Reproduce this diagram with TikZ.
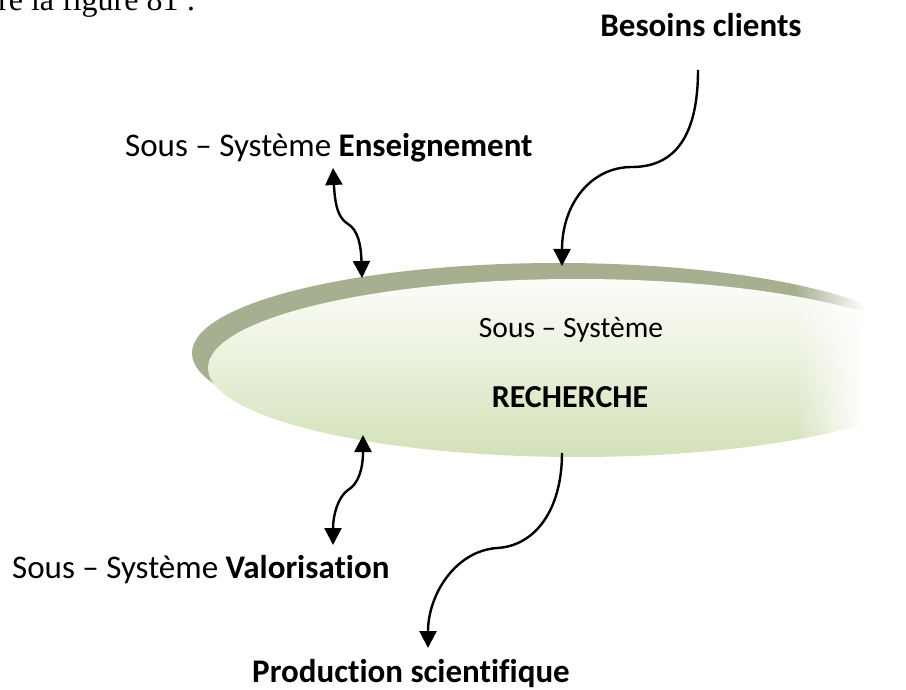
\documentclass[tikz,border=0pt]{standalone}
\usepackage{fontspec}
\setmainfont{Carlito}[Ligatures=NoCommon]
\newfontfamily\timesf{Liberation Serif}
\usetikzlibrary{arrows.meta,fadings}
\definecolor{rim}{RGB}{166,176,145}
\definecolor{lightbot}{RGB}{212,225,185}
\definecolor{lightmid}{RGB}{236,242,224}
\definecolor{lighttop}{RGB}{252,253,249}
\tikzfading[name=fadeR, left color=transparent!100, right color=transparent!0]
\begin{document}
\begin{tikzpicture}[x=1pt,y=-1pt,
  lbl/.style={font=\fontsize{33}{40}\selectfont, inner sep=0pt},
  inlbl/.style={font=\fontsize{29.5}{36}\selectfont, inner sep=0pt},
  inbold/.style={font=\fontsize{32}{38}\selectfont\bfseries, inner sep=0pt},
  figtxt/.style={font=\timesf\fontsize{32}{38}\selectfont, inner sep=0pt},
  oneway/.style={line width=2.4pt, -{Triangle[length=17pt,width=17pt]}},
  twoway/.style={line width=2.4pt, {Triangle[length=17pt,width=17pt]}-{Triangle[length=17pt,width=17pt]}}]
\useasboundingbox (0,0) rectangle (906,690);
\clip (0,0) rectangle (906,690);
% ellipse
\fill[rim] (558,353) ellipse [x radius=366pt, y radius=90pt];
\shade[top color=lighttop, middle color=lightmid, bottom color=lightbot] (577,368) ellipse [x radius=369pt, y radius=89pt];
\fill[white, path fading=fadeR] (795,220) rectangle (865,480);
\fill[white] (864,220) rectangle (906,480);
% texts
\node[figtxt, anchor=base west] (fig) at (-2,11) {re la figure 81 :};
\node[lbl, anchor=base] (besoins) at (701,37) {\bfseries Besoins clients};
\node[lbl, anchor=base west] (ens) at (125,157) {Sous – Système \textbf{Enseignement}};
\node[lbl, anchor=base west] (val) at (12,578) {Sous – Système \textbf{Valorisation}};
\node[lbl, anchor=base west] (prod) at (252,682) {\bfseries Production scientifique};
\node[inlbl, anchor=base] (sous) at (571,337) {Sous – Système};
\node[inbold, anchor=base] (rech) at (570,407) {RECHERCHE};
% connector ends
\coordinate (bA) at (698,70);
\coordinate (bB) at (562,266);
\coordinate (eA) at (333,168);
\coordinate (eB) at (362,278);
\coordinate (vA) at (363,435);
\coordinate (vB) at (333,545);
\coordinate (pA) at (562,453);
\coordinate (pB) at (428,648);
% connectors
\draw[oneway] (bA) .. controls (698,140) and (672,167) .. (632,167) .. controls (590,167) and (562,205) .. (bB);
\draw[twoway] (eA) .. controls (335,205) and (338,218) .. (348,224) .. controls (358,230) and (361,245) .. (eB);
\draw[twoway] (vA) .. controls (363,470) and (358,484) .. (348,490) .. controls (338,497) and (333,515) .. (vB);
\draw[oneway] (pA) .. controls (562,510) and (535,546) .. (497,548) .. controls (455,551) and (428,595) .. (pB);
\end{tikzpicture}
\end{document}
